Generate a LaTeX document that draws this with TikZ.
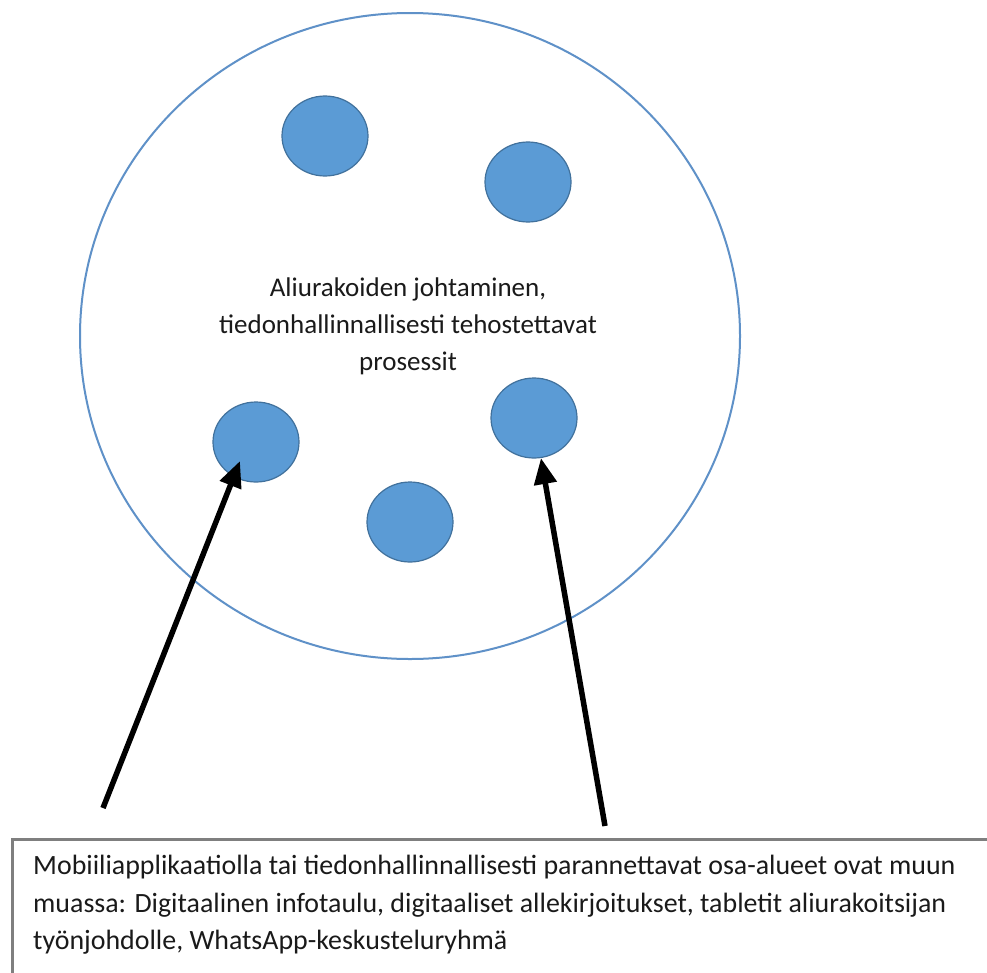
\documentclass[tikz,border=0pt]{standalone}
\usepackage{fontspec}
\setmainfont{Carlito}
\usetikzlibrary{shapes.geometric,arrows.meta}
\definecolor{dotfill}{HTML}{5B9BD5}
\definecolor{dotline}{HTML}{41719C}
\definecolor{ringline}{RGB}{95,145,200}
\definecolor{boxline}{HTML}{7F7F7F}
\definecolor{txt}{HTML}{1A1A1A}
\begin{document}
\begin{tikzpicture}[x=1pt,y=-1pt,
  ring/.style={ellipse,draw=ringline,line width=2pt,minimum width=660pt,minimum height=646pt,inner sep=0pt},
  dot/.style={ellipse,draw=dotline,line width=1.2pt,fill=dotfill,minimum width=86pt,minimum height=80pt,inner sep=0pt},
  label/.style={text=txt,font=\fontsize{27}{37}\selectfont,inner sep=0pt},
  pointer/.style={line width=5.5pt,black,-{Triangle[length=26pt,width=22pt]}},
  infobox/.style={draw=boxline,line width=2.6pt,anchor=north west,minimum width=1000pt,minimum height=200pt,inner sep=0pt}]
  \clip (0,0) rectangle (987,972);
  \fill[white] (0,0) rectangle (987,972);

  % outer area and its sub-processes
  \node[ring] (area) at (410,336) {};
  \node[label,align=center] (title) at (408,326)
    {Aliurakoiden johtaminen,\\tiedonhallinnallisesti tehostettavat\\prosessit};
  \node[dot] (c1) at (325,136) {};
  \node[dot] (c2) at (528,182) {};
  \node[dot] (c3) at (256,442) {};
  \node[dot] (c4) at (534,418) {};
  \node[dot] (c5) at (410,522) {};

  % description box at the bottom
  \node[infobox] (box) at (11,838) {};
  \node[label,font=\fontsize{27.9}{37.5}\selectfont,align=left,anchor=north west] (desc) at (33,855)
    {Mobiiliapplikaatiolla tai tiedonhallinnallisesti parannettavat osa-alueet ovat muun\\
     muassa: Digitaalinen infotaulu, digitaaliset allekirjoitukset, tabletit aliurakoitsijan\\
     työnjohdolle, WhatsApp-keskusteluryhmä};

  % pointers from the description to the improvable sub-processes
  \coordinate (p1) at (103,808);
  \coordinate (p2) at (605,826);
  \draw[pointer] (p1) -- ([shift={(-16,19)}]c3.center);
  \draw[pointer] (p2) -- (c4);
\end{tikzpicture}
\end{document}
